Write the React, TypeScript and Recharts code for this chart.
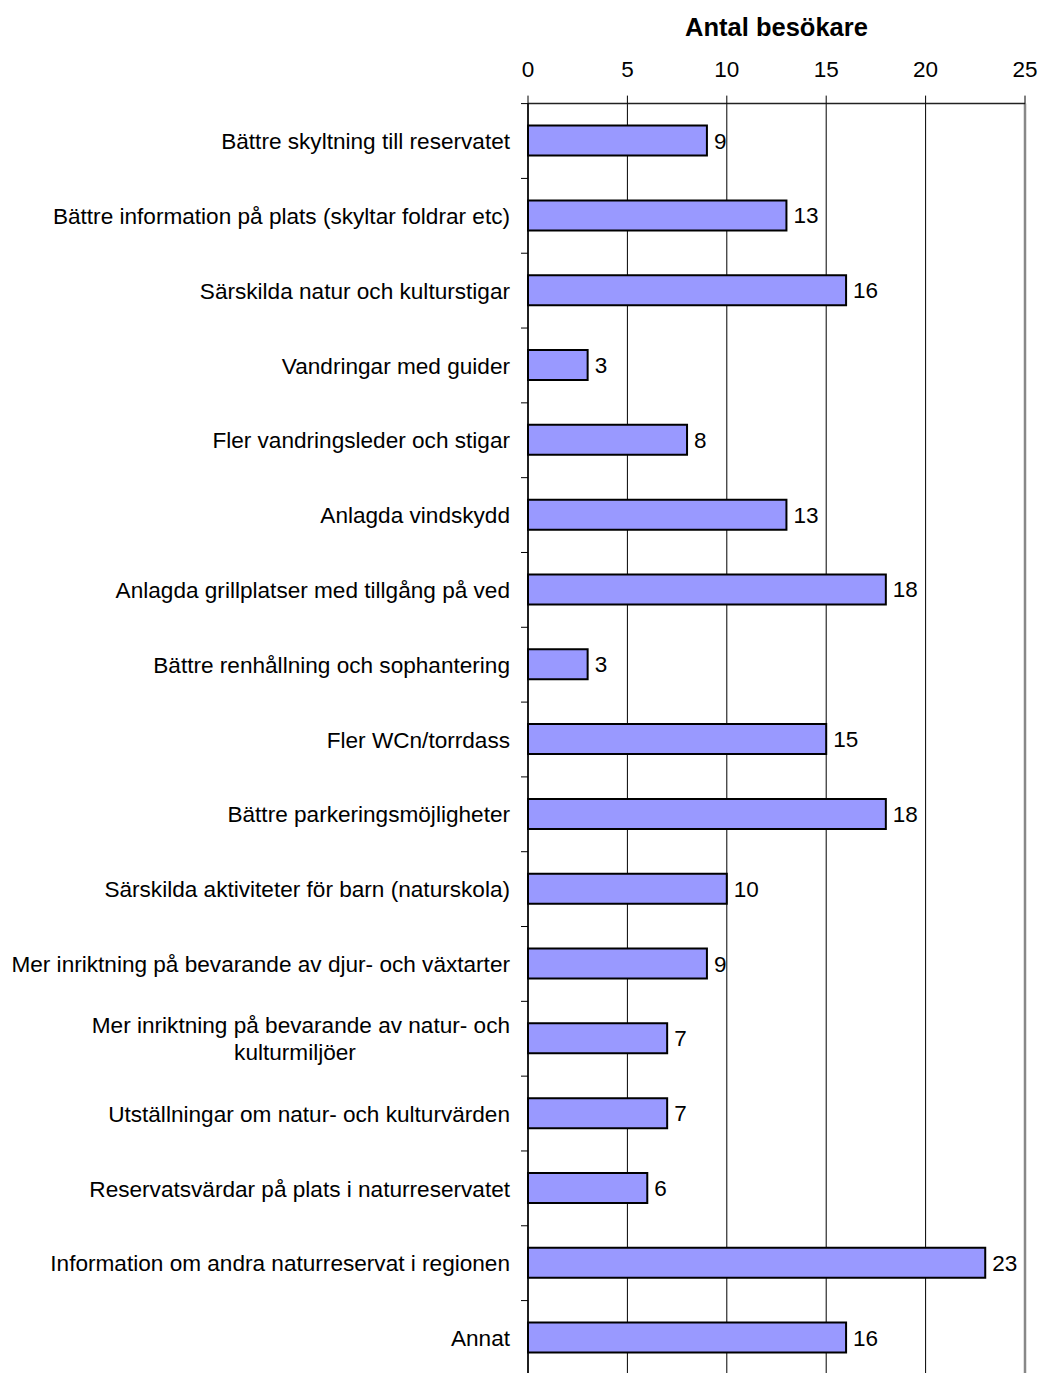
import React from 'react';
import { BarChart, Bar, XAxis, YAxis, CartesianGrid, LabelList, ReferenceLine } from 'recharts';

const categories = [
  'Bättre skyltning till reservatet',
  'Bättre information på plats (skyltar foldrar etc)',
  'Särskilda natur och kulturstigar',
  'Vandringar med guider',
  'Fler vandringsleder och stigar',
  'Anlagda vindskydd',
  'Anlagda grillplatser med tillgång på ved',
  'Bättre renhållning och sophantering',
  'Fler WCn/torrdass',
  'Bättre parkeringsmöjligheter',
  'Särskilda aktiviteter för barn (naturskola)',
  'Mer inriktning på bevarande av djur- och växtarter',
  'Mer inriktning på bevarande av natur- och\nkulturmiljöer',
  'Utställningar om natur- och kulturvärden',
  'Reservatsvärdar på plats i naturreservatet',
  'Information om andra naturreservat i regionen',
  'Annat',
];
const values = [9, 13, 16, 3, 8, 13, 18, 3, 15, 18, 10, 9, 7, 7, 6, 23, 16];
const xTicks = [0, 5, 10, 15, 20, 25];
const title = 'Antal besökare';

const data = categories.map((name, i) => ({ name, value: values[i] }));

const FONT = '"Liberation Sans", Arial, sans-serif';
const TICK_SIZE = 7;
const TICK_MARGIN = 11;

const CategoryTick = (props: any) => {
  const { x, y, payload } = props;
  const lines = String(payload.value).split('\n');
  const axisX = x + TICK_SIZE + TICK_MARGIN;
  const half = payload.offset ?? 37.4;
  const lh = 27;
  const fs = 22.6;
  return (
    <g>
      <line x1={axisX - TICK_SIZE} x2={axisX} y1={y - half} y2={y - half} stroke="#000" strokeWidth={1} />
      {lines.length === 1 ? (
        <text x={x} y={y} dy="0.36em" textAnchor="end" fontSize={fs} fontFamily={FONT} fill="#000">
          {lines[0]}
        </text>
      ) : (
        lines.map((ln, i) => (
          <text
            key={i}
            x={i === 0 ? x : x - 215}
            y={y + (i - (lines.length - 1) / 2) * lh}
            dy="0.36em"
            textAnchor={i === 0 ? 'end' : 'middle'}
            fontSize={fs}
            fontFamily={FONT}
            fill="#000"
          >
            {ln}
          </text>
        ))
      )}
    </g>
  );
};

export default function App() {
  return (
    <div style={{ position: 'absolute', left: 0, top: 0, width: 1041, height: 1373, overflow: 'hidden', background: '#fff' }}>
      <BarChart
        width={1041}
        height={1380}
        data={data}
        layout="vertical"
        margin={{ top: 0, right: 16, bottom: 4.6, left: 0 }}
        barCategoryGap={0}
      >
        <CartesianGrid horizontal={false} vertical stroke="#000" strokeWidth={1} />
        <XAxis
          type="number"
          orientation="top"
          domain={[0, 25]}
          ticks={xTicks}
          height={103.6}
          tickSize={8}
          tickMargin={19}
          axisLine={{ stroke: '#222', strokeWidth: 1.5 }}
          tickLine={{ stroke: '#000', strokeWidth: 1 }}
          tick={{ fontSize: 22.5, fontFamily: FONT, fill: '#000' }}
          label={{
            value: title,
            position: 'insideTop',
            offset: 18,
            style: { fontSize: 25.5, fontWeight: 'bold', fontFamily: FONT, fill: '#000' },
          }}
        />
        <YAxis
          type="category"
          dataKey="name"
          width={528}
          tickSize={TICK_SIZE}
          tickMargin={TICK_MARGIN}
          tickLine={false}
          axisLine={{ stroke: '#000', strokeWidth: 1.5 }}
          tick={<CategoryTick />}
          interval={0}
        />
        <ReferenceLine x={25} stroke="#888" strokeWidth={2.5} />
        <Bar dataKey="value" fill="#9999FF" stroke="#000" strokeWidth={2} barSize={30} isAnimationActive={false}>
          <LabelList dataKey="value" position="right" offset={7} fill="#000" fontSize={22.5} fontFamily={FONT} />
        </Bar>
      </BarChart>
    </div>
  );
}
